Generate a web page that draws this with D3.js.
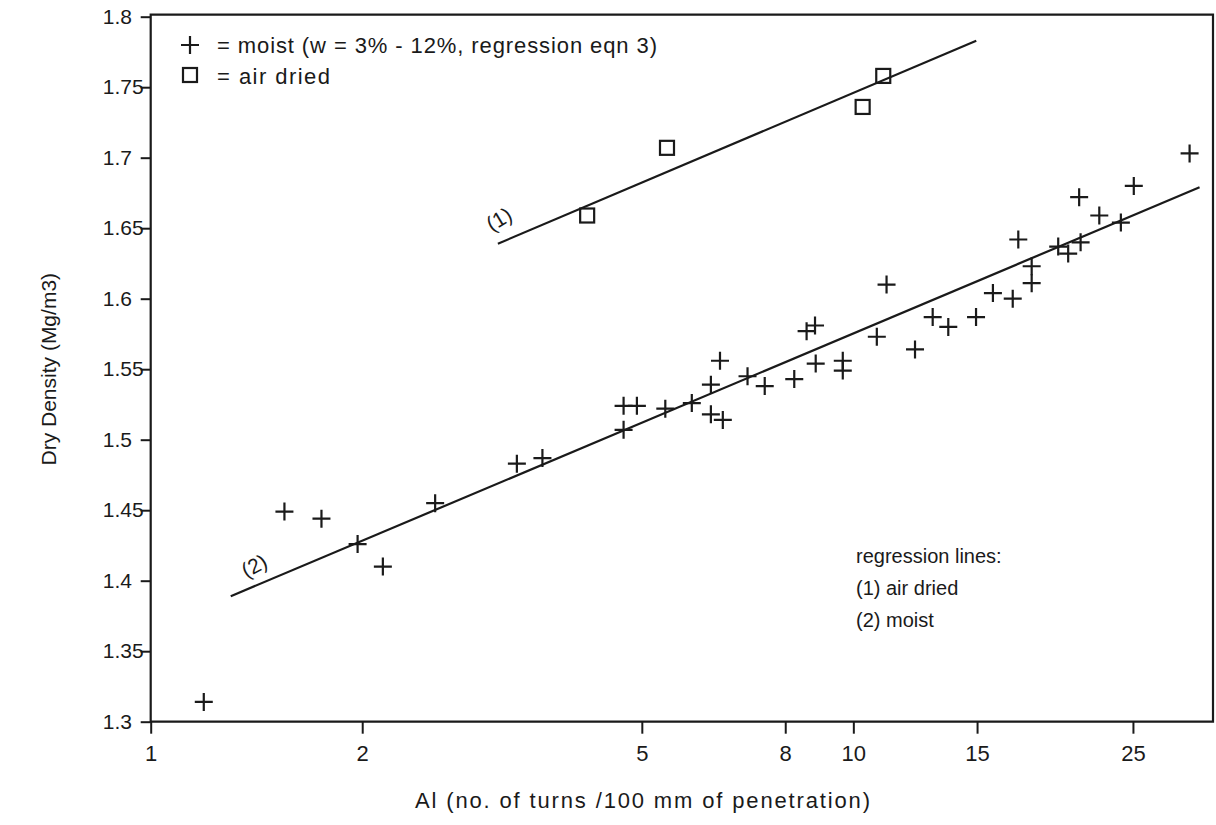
<!DOCTYPE html>
<html><head><meta charset="utf-8">
<script src="https://cdn.jsdelivr.net/npm/d3@7/dist/d3.min.js"></script>
<style>
html,body{margin:0;padding:0;background:#fff;}
svg{display:block;}
text{font-family:"Liberation Sans",Arial,sans-serif;fill:#1a1a1a;}
</style></head>
<body>
<svg id="chart" width="1216" height="825"></svg>
<script>
// Data
const moistX = [1.19, 1.55, 1.75, 1.97, 2.14, 2.54, 3.32, 3.61, 4.71, 4.92, 4.71, 5.40, 5.89, 6.46, 6.27, 6.27, 6.52, 7.07, 7.48, 8.24, 8.84, 8.58, 8.82, 9.66, 9.66, 10.8, 11.15, 12.24, 12.97, 13.65, 14.95, 15.8, 16.86, 17.17, 17.94, 17.94, 19.57, 20.22, 21.06, 20.96, 22.39, 24.03, 25.07, 30.1];
const moistY = [1.314, 1.449, 1.444, 1.426, 1.410, 1.455, 1.483, 1.487, 1.524, 1.524, 1.507, 1.522, 1.526, 1.556, 1.539, 1.518, 1.514, 1.545, 1.538, 1.543, 1.554, 1.577, 1.581, 1.556, 1.549, 1.573, 1.610, 1.564, 1.587, 1.580, 1.587, 1.604, 1.600, 1.642, 1.623, 1.611, 1.637, 1.632, 1.640, 1.672, 1.659, 1.654, 1.680, 1.703];
const airX = [4.18, 5.43, 10.31, 11.03];
const airY = [1.659, 1.707, 1.736, 1.758];
const line1X = [3.12, 14.96];
const line1Y = [1.639, 1.783];
const line2X = [1.30, 31.1];
const line2Y = [1.389, 1.679];
const xTicks = [1, 2, 5, 8, 10, 15, 25];
const yTicks = [1.3, 1.35, 1.4, 1.45, 1.5, 1.55, 1.6, 1.65, 1.7, 1.75, 1.8];
const xDomain = [1, 32.5];
const yDomain = [1.3, 1.8];
const legendItems = ["= moist (w = 3% - 12%, regression eqn 3)", "= air dried"];
const noteLines = ["regression lines:", "(1) air dried", "(2) moist"];
const xTitle = "Al (no. of turns /100 mm of penetration)";
const yTitle = "Dry Density (Mg/m3)";

const svg = d3.select("#chart");
const L = 150.7, R = 1213, T = 16.7, B = 721.7;
const x = d3.scaleLog().domain(xDomain).range([L, R]);
const y = d3.scaleLinear().domain(yDomain).range([B, T]);
const ink = "#1a1a1a";

// frame
svg.append("path")
  .attr("d", `M${L},${T-2}H${R}V${B}H${L}Z`)
  .attr("fill", "none").attr("stroke", ink).attr("stroke-width", 2.2);

// x axis
const gx = svg.append("g").attr("transform", `translate(0,${B})`)
  .call(d3.axisBottom(x).tickValues(xTicks).tickSize(12).tickPadding(12).tickFormat(d3.format("d")));
gx.select(".domain").remove();
gx.selectAll("line").attr("stroke", ink).attr("stroke-width", 2);
gx.selectAll("text").attr("font-size", 22).attr("fill", ink);

// y axis
const gy = svg.append("g").attr("transform", `translate(${L},0)`)
  .call(d3.axisLeft(y).tickValues(yTicks).tickSize(10).tickFormat(d => String(+d.toFixed(2))));
gy.select(".domain").remove();
gy.selectAll("line").attr("stroke", ink).attr("stroke-width", 2);
gy.selectAll("text").attr("font-size", 21).attr("fill", ink)
  .attr("text-anchor", "start").attr("x", -48);

// axis titles
svg.append("text").attr("x", 415).attr("y", 808)
  .attr("font-size", 22).attr("textLength", 455).attr("lengthAdjust", "spacing").text(xTitle);
svg.append("text").attr("transform", `translate(56,${(T+B)/2}) rotate(-90)`)
  .attr("text-anchor", "middle").attr("font-size", 21).text(yTitle);

// regression lines
const lineGen = d3.line().x(d => x(d[0])).y(d => y(d[1]));
svg.append("path").datum(d3.zip(line1X, line1Y)).attr("d", lineGen)
  .attr("fill", "none").attr("stroke", ink).attr("stroke-width", 2.2);
svg.append("path").datum(d3.zip(line2X, line2Y)).attr("d", lineGen)
  .attr("fill", "none").attr("stroke", ink).attr("stroke-width", 2.2);

// line labels
const ang = Math.atan2(y(line2Y[1]) - y(line2Y[0]), x(line2X[1]) - x(line2X[0])) * 180 / Math.PI;
svg.append("text").attr("transform", `translate(${x(3.17)},${y(1.652)}) rotate(${ang-8})`)
  .attr("text-anchor", "middle").attr("font-size", 21).text("(1)");
svg.append("text").attr("transform", `translate(${x(1.42)},${y(1.406)}) rotate(${ang-5})`)
  .attr("text-anchor", "middle").attr("font-size", 21).text("(2)");

// crosses
const crossPath = (s) => `M${-s},0H${s}M0,${-s}V${s}`;
svg.append("g").selectAll("path").data(d3.zip(moistX, moistY)).join("path")
  .attr("transform", d => `translate(${x(d[0])},${y(d[1])})`)
  .attr("d", crossPath(9)).attr("stroke", ink).attr("stroke-width", 2.2).attr("fill", "none");

// squares
svg.append("g").selectAll("rect").data(d3.zip(airX, airY)).join("rect")
  .attr("x", d => x(d[0]) - 7).attr("y", d => y(d[1]) - 7)
  .attr("width", 14).attr("height", 14)
  .attr("fill", "none").attr("stroke", ink).attr("stroke-width", 2.2);

// legend
svg.append("path").attr("transform", "translate(190,45)").attr("d", crossPath(9))
  .attr("stroke", ink).attr("stroke-width", 2.2);
svg.append("rect").attr("x", 183).attr("y", 68).attr("width", 14).attr("height", 14)
  .attr("fill", "none").attr("stroke", ink).attr("stroke-width", 2.2);
svg.append("g").selectAll("text").data(legendItems).join("text")
  .attr("x", 217).attr("y", (d, i) => 53 + i * 31)
  .attr("font-size", 22)
  .attr("textLength", (d, i) => i === 0 ? 440 : 113).attr("lengthAdjust", "spacing")
  .text(d => d);

// note
svg.append("g").selectAll("text").data(noteLines).join("text")
  .attr("x", 856).attr("y", (d, i) => 563 + i * 32)
  .attr("font-size", 20)
  .text(d => d);
</script>
</body></html>
